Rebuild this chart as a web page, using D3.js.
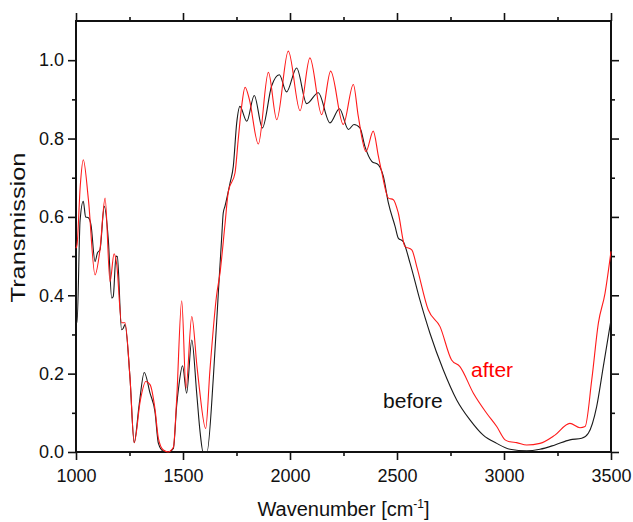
<!DOCTYPE html>
<html>
<head>
  <meta charset="utf-8">
  <script src="https://d3js.org/d3.v7.min.js"></script>
  <style>
  body {
    margin: 0;
    background: white;
  }

  .axis text {
    font-family: Arial, "Liberation Sans", sans-serif;
    font-size: 18px;
    fill: #111;
  }

  .axis path, .axis line {
    stroke: #111;
  }

  .axis line {
    stroke-width: 1.6px;
  }

  .title {
    font-family: Arial, "Liberation Sans", sans-serif;
    fill: #111;
  }

  .spectrum {
    fill: none;
    stroke-width: 1.1px;
  }
  </style>
</head>
<body>
<script>
// wavenumbers (cm-1) and transmission
var beforeWn = [1000, 1005, 1019, 1034, 1045, 1058, 1070, 1089, 1100, 1112, 1132, 1151, 1167, 1174, 1187, 1193,
  1213, 1221, 1229, 1252, 1272, 1295, 1319, 1346, 1369, 1385, 1408, 1430, 1455, 1470, 1481, 1498, 1517, 1541,
  1564, 1580, 1594, 1612, 1642, 1665, 1681, 1688, 1696, 1720, 1735, 1751, 1766, 1798, 1833, 1871, 1914, 1950,
  1984, 2031, 2078, 2132, 2187, 2231, 2273, 2299, 2327, 2350, 2382, 2413, 2436, 2460, 2491, 2506, 2529, 2561,
  2607, 2654, 2716, 2779, 2841, 2903, 2966, 3028, 3106, 3168, 3238, 3308, 3363, 3394, 3433, 3464, 3500];
var beforeT = [0.33, 0.33, 0.59, 0.64, 0.60, 0.598, 0.58, 0.486, 0.508, 0.516, 0.627, 0.542, 0.393, 0.397, 0.50, 0.499,
  0.312, 0.316, 0.325, 0.192, 0.024, 0.12, 0.203, 0.15, 0.103, 0.022, 0.002, 0.0, 0.009, 0.116, 0.171, 0.22, 0.15, 0.286,
  0.15, 0.05, 0.0, 0.0, 0.192, 0.405, 0.55, 0.61, 0.627, 0.687, 0.729, 0.84, 0.882, 0.844, 0.91, 0.827, 0.934, 0.963,
  0.919, 0.98, 0.889, 0.917, 0.84, 0.876, 0.823, 0.836, 0.827, 0.78, 0.742, 0.733, 0.704, 0.635, 0.576, 0.546, 0.537, 0.482,
  0.388, 0.303, 0.21, 0.133, 0.082, 0.043, 0.022, 0.007, 0.003, 0.007, 0.018, 0.031, 0.035, 0.048, 0.116, 0.218, 0.337];

var afterWn = [1000, 1005, 1020, 1034, 1058, 1089, 1112, 1136, 1159, 1178, 1190, 1213, 1229, 1252, 1272, 1300,
  1326, 1346, 1369, 1385, 1408, 1430, 1455, 1470, 1494, 1514, 1541, 1565, 1576, 1606, 1626, 1657, 1673, 1696,
  1712, 1743, 1758, 1774, 1790, 1810, 1852, 1899, 1938, 1992, 2047, 2093, 2148, 2190, 2249, 2296, 2319, 2355,
  2389, 2413, 2428, 2460, 2483, 2506, 2537, 2569, 2592, 2646, 2701, 2755, 2794, 2857, 2919, 2966, 3005, 3028,
  3059, 3106, 3168, 3238, 3308, 3355, 3379, 3410, 3441, 3472, 3500];
var afterT = [0.52, 0.53, 0.68, 0.746, 0.644, 0.452, 0.516, 0.648, 0.435, 0.506, 0.48, 0.33, 0.33, 0.192, 0.024, 0.13,
  0.18, 0.172, 0.11, 0.035, 0.005, 0.0, 0.012, 0.13, 0.386, 0.163, 0.346, 0.22, 0.165, 0.06, 0.21, 0.40, 0.457, 0.58,
  0.665, 0.712, 0.797, 0.882, 0.931, 0.9, 0.786, 0.969, 0.848, 1.023, 0.871, 1.006, 0.861, 0.972, 0.836, 0.938, 0.857, 0.767,
  0.819, 0.755, 0.716, 0.648, 0.644, 0.61, 0.525, 0.516, 0.474, 0.363, 0.32, 0.235, 0.218, 0.15, 0.099, 0.065, 0.031, 0.026,
  0.024, 0.018, 0.022, 0.043, 0.073, 0.062, 0.065, 0.184, 0.329, 0.405, 0.512];

var xMajor = [1000, 1500, 2000, 2500, 3000, 3500];
var xMinor = [1250, 1750, 2250, 2750, 3250];
var yMajor = [0.0, 0.2, 0.4, 0.6, 0.8, 1.0];
var yMinor = [0.1, 0.3, 0.5, 0.7, 0.9];

var seriesNames = ['before', 'after'];
var seriesColors = ['#1a1a1a', '#ff1a1a'];
// where the series names sit, in data units (wavenumber, transmission)
var labelWn = [2435, 2846];
var labelT = [0.112, 0.192];

var svgW = 633, svgH = 522;
var plotL = 76, plotR = 611, plotT = 21, plotB = 452;

var svg = d3.select('body')
  .append('svg')
    .attr('width', svgW)
    .attr('height', svgH);

var x = d3.scaleLinear().domain([1000, 3500]).range([plotL, plotR]);
var y = d3.scaleLinear().domain([0, 1.1]).range([plotB, plotT]);

function addAxis(axisFn, scale, values, size, pos, withLabels, fmt) {
  var ax = axisFn(scale)
    .tickValues(values)
    .tickSize(size)
    .tickSizeOuter(0)
    .tickPadding(axisFn === d3.axisBottom ? 9 : 4)
    .tickFormat(withLabels ? fmt : '');
  var g = svg.append('g')
    .attr('class', 'axis')
    .attr('transform', pos)
    .call(ax);
  g.select('.domain').remove();
  return g;
}

// major ticks with labels, minor ticks without
addAxis(d3.axisBottom, x, xMajor, 8, 'translate(0,' + plotB + ')', true, d3.format('d'));
addAxis(d3.axisBottom, x, xMinor, 4, 'translate(0,' + plotB + ')', false);
addAxis(d3.axisTop, x, xMajor, 8, 'translate(0,' + plotT + ')', false);
addAxis(d3.axisTop, x, xMinor, 4, 'translate(0,' + plotT + ')', false);
addAxis(d3.axisLeft, y, yMajor, 8, 'translate(' + plotL + ',0)', true, d3.format('.1f'));
addAxis(d3.axisLeft, y, yMinor, 4, 'translate(' + plotL + ',0)', false);
addAxis(d3.axisRight, y, yMajor, 8, 'translate(' + plotR + ',0)', false);
addAxis(d3.axisRight, y, yMinor, 4, 'translate(' + plotR + ',0)', false);

// frame round the plot
svg.append('rect')
  .attr('x', plotL)
  .attr('y', plotT)
  .attr('width', plotR - plotL)
  .attr('height', plotB - plotT)
  .attr('fill', 'none')
  .attr('stroke', '#111')
  .attr('stroke-width', 2);

var line = d3.line()
  .x(function(d) { return x(d[0]); })
  .y(function(d) { return y(d[1]); })
  .curve(d3.curveMonotoneX);

var series = [d3.zip(beforeWn, beforeT), d3.zip(afterWn, afterT)];

svg.append('g')
  .selectAll('path')
  .data(series)
  .enter().append('path')
    .attr('class', 'spectrum')
    .attr('stroke', function(d, i) { return seriesColors[i]; })
    .attr('d', line);

svg.append('g')
  .selectAll('text')
  .data(seriesNames)
  .enter().append('text')
    .attr('class', 'title')
    .attr('x', function(d, i) { return x(labelWn[i]); })
    .attr('y', function(d, i) { return y(labelT[i]); })
    .style('fill', function(d, i) { return i === 0 ? '#111' : 'red'; })
    .style('font-size', '21px')
    .text(function(d) { return d; });

// axis titles
var xt = svg.append('text')
  .attr('class', 'title')
  .attr('x', (plotL + plotR) / 2)
  .attr('y', 516)
  .attr('text-anchor', 'middle')
  .style('font-size', '20px');
xt.append('tspan').text('Wavenumber [cm');
xt.append('tspan').attr('dy', -8).style('font-size', '12px').text('-1');
xt.append('tspan').attr('dy', 8).text(']');

svg.append('text')
  .attr('class', 'title')
  .attr('transform', 'translate(25,227.5) rotate(-90) scale(1.3,1)')
  .attr('text-anchor', 'middle')
  .style('font-size', '19.5px')
  .text('Transmission');
</script>
</body>
</html>
